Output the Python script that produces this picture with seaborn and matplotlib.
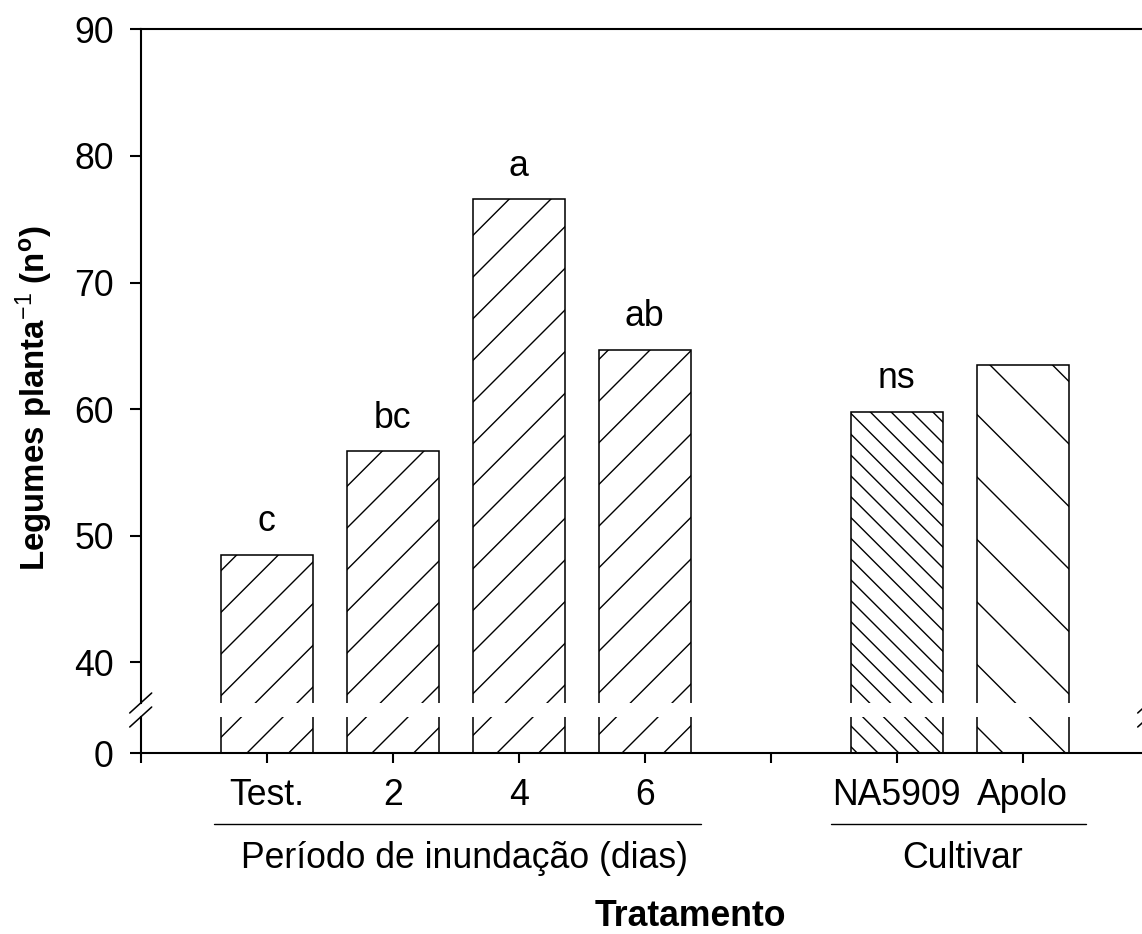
import numpy as np
import pandas as pd
import matplotlib
matplotlib.use("Agg")
import matplotlib.pyplot as plt
import matplotlib.backend_bases as mbb
import matplotlib.transforms as mtransforms
import seaborn as sns

# ---------------- data ----------------
categories = ["Test.", "2", "4", "6", "NA5909", "Apolo"]
values = [48.5, 56.7, 76.6, 64.7, 59.8, 63.5]
letters = ["c", "bc", "a", "ab", "ns", ""]
order = ["Test.", "2", "4", "6", " ", "NA5909", "Apolo"]
xtick_labels = ["", "Test.", "2", "4", "6", "", "NA5909", "Apolo"]
yticks_top = [40, 50, 60, 70, 80, 90]
yticks_bottom = [0]
group_labels = ["Período de inundação (dias)", "Cultivar"]
group_centers = [1.57, 5.52]
group_spans = [(-0.42, 3.45), (4.48, 6.5)]
hatches = {"Test.": "///", "2": "///", "4": "///", "6": "///",
           "NA5909": "\\" * 6, "Apolo": "\\" * 2}

# hatch density: fewer lines per pattern character
_orig_ghp = mbb.GraphicsContextBase.get_hatch_path
def _ghp(self, density=2.0):
    return _orig_ghp(self, density)
mbb.GraphicsContextBase.get_hatch_path = _ghp

sns.set_style("ticks")
plt.rcParams["font.family"] = ["Liberation Sans", "DejaVu Sans"]
plt.rcParams["mathtext.fontset"] = "custom"
plt.rcParams["mathtext.rm"] = "Liberation Sans"
plt.rcParams["mathtext.bf"] = "Liberation Sans:bold"
plt.rcParams["mathtext.it"] = "Liberation Sans:italic"
plt.rcParams["hatch.linewidth"] = 0.8
plt.rcParams["hatch.color"] = "black"
plt.rcParams["text.color"] = "black"
plt.rcParams["axes.labelcolor"] = "black"
plt.rcParams["xtick.color"] = "black"
plt.rcParams["ytick.color"] = "black"

DPI = 125
W, H = 1142, 934
fig = plt.figure(figsize=(W / DPI, H / DPI), dpi=DPI)


def px_rect(x0, y0, x1, y1):
    return [x0 / W, 1 - y1 / H, (x1 - x0) / W, (y1 - y0) / H]


ax_top = fig.add_axes(px_rect(140.7, 29.3, 1148.7, 703))
ax_bot = fig.add_axes(px_rect(140.7, 717, 1148.7, 753.3))

df = pd.DataFrame({"Tratamento": categories, "Legumes": values})
FS = 20.5
for ax in (ax_top, ax_bot):
    sns.barplot(data=df, x="Tratamento", y="Legumes", order=order,
                color="white", edgecolor="black", linewidth=0.9, width=0.73,
                errorbar=None, saturation=1, ax=ax)
    for p in ax.patches:
        idx = int(round(p.get_x() + p.get_width() / 2))
        p.set_hatch(hatches.get(order[idx], ""))
        p.set_facecolor("white")
        p.set_edgecolor("black")
    ax.set_xlim(-1, 7)
    ax.set_xlabel("")
    ax.set_ylabel("")
    for s in ax.spines.values():
        s.set_linewidth(1.2)
        s.set_color("black")
    ax.spines["right"].set_visible(False)
    ax.tick_params(axis="y", length=6.5, width=1.2, pad=9, labelsize=FS, colors="black")
    ax.tick_params(axis="x", length=5.5, width=1.2, pad=9, labelsize=FS, colors="black")

ax_top.set_ylim(36.8, 90)
ax_top.set_yticks(yticks_top)
ax_top.spines["bottom"].set_visible(False)
ax_top.tick_params(axis="x", bottom=False, labelbottom=False)

ax_bot.set_ylim(0, 2.84)
ax_bot.set_yticks(yticks_bottom)
ax_bot.spines["top"].set_visible(False)
ax_bot.set_xticks(range(-1, 7))
ax_bot.set_xticklabels(xtick_labels)

# significance letters
for cat, val, let in zip(categories, values, letters):
    if let:
        ax_top.annotate(let, xy=(order.index(cat), val), xytext=(0, 13.5),
                        textcoords="offset points", ha="center", va="baseline",
                        fontsize=FS)

# axis break marks
dx_px, dy_px = 11, 10
for ax, yy, hpx in ((ax_top, 0, 703 - 29.3), (ax_bot, 1, 753.3 - 717)):
    for xx in (0, 1):
        ax.plot([xx - dx_px / 1008, xx + dx_px / 1008],
                [yy - dy_px / hpx, yy + dy_px / hpx],
                color="black", lw=0.9, clip_on=False, transform=ax.transAxes)

# group underlines and labels
blend = mtransforms.blended_transform_factory(ax_bot.transData, fig.transFigure)
for (x0, x1), xc, lab in zip(group_spans, group_centers, group_labels):
    ax_bot.plot([x0, x1], [1 - 824 / H, 1 - 824 / H], color="black", lw=0.8,
                clip_on=False, transform=blend)
    ax_bot.text(xc, 1 - 858 / H, lab, ha="center", va="center", fontsize=FS,
                transform=blend)

fig.text(690 / W, 8 / H, "Tratamento", ha="center", va="baseline",
         fontsize=FS, fontweight="bold")
fig.text(34 / W, 1 - 398 / H,
         r"Legumes planta$^{-1}$ (n$^{\mathbf{o}}$)", rotation=90,
         ha="center", va="center", fontsize=19, fontweight="bold")

fig.savefig("out.png", dpi=DPI)
